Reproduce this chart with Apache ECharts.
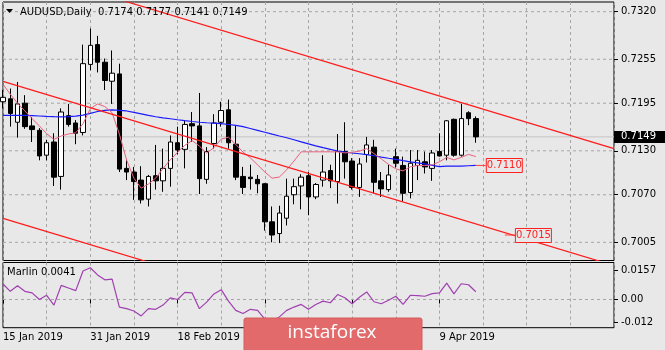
<!DOCTYPE html>
<html>
<head>
<meta charset="utf-8">
<script src="https://cdn.jsdelivr.net/npm/echarts@6/dist/echarts.min.js"></script>
<style>
  html, body { margin: 0; padding: 0; background: #e8e8e8; }
  #chart { width: 665px; height: 350px; }
</style>
</head>
<body>
<div id="chart"></div>
<script>
// AUDUSD daily session dates (trading days), followed by the empty future slots on the right
const dates = [
  '15 Jan 2019','16 Jan 2019','17 Jan 2019','18 Jan 2019','21 Jan 2019','22 Jan 2019','23 Jan 2019','24 Jan 2019','25 Jan 2019',
  '28 Jan 2019','29 Jan 2019','30 Jan 2019','31 Jan 2019','1 Feb 2019','4 Feb 2019','5 Feb 2019','6 Feb 2019','7 Feb 2019',
  '8 Feb 2019','11 Feb 2019','12 Feb 2019','13 Feb 2019','14 Feb 2019','15 Feb 2019','18 Feb 2019','19 Feb 2019','20 Feb 2019',
  '21 Feb 2019','22 Feb 2019','25 Feb 2019','26 Feb 2019','27 Feb 2019','28 Feb 2019','1 Mar 2019','4 Mar 2019','5 Mar 2019',
  '6 Mar 2019','7 Mar 2019','8 Mar 2019','11 Mar 2019','12 Mar 2019','13 Mar 2019','14 Mar 2019','15 Mar 2019','18 Mar 2019',
  '19 Mar 2019','20 Mar 2019','21 Mar 2019','22 Mar 2019','25 Mar 2019','26 Mar 2019','27 Mar 2019','28 Mar 2019','29 Mar 2019',
  '1 Apr 2019','2 Apr 2019','3 Apr 2019','4 Apr 2019','5 Apr 2019','8 Apr 2019','9 Apr 2019','10 Apr 2019','11 Apr 2019',
  '12 Apr 2019','15 Apr 2019','16 Apr 2019'
];
const futureDates = [
  '17 Apr 2019','18 Apr 2019','19 Apr 2019','22 Apr 2019','23 Apr 2019','24 Apr 2019','25 Apr 2019','26 Apr 2019','29 Apr 2019',
  '30 Apr 2019','1 May 2019','2 May 2019','3 May 2019','6 May 2019','7 May 2019','8 May 2019','9 May 2019','10 May 2019','13 May 2019'
];

const opens = [
  0.7197,0.7201,0.7169,0.7195,0.7164,0.7158,0.7124,0.7142,0.7095,0.7178,0.7168,0.7155,0.7248,0.7275,0.7251,0.7225,0.7235,0.7106,
  0.7101,0.7090,0.7064,0.7096,0.7089,0.7106,0.7141,0.7132,0.7167,0.7164,0.7091,0.7140,0.7169,0.7186,0.7139,0.7095,0.7094,0.7091,
  0.7085,0.7033,0.7017,0.7038,0.7070,0.7082,0.7096,0.7067,0.7090,0.7103,0.7088,0.7129,0.7116,0.7080,0.7125,0.7135,0.7089,0.7077,
  0.7122,0.7110,0.7073,0.7110,0.7115,0.7106,0.7129,0.7124,0.7173,0.7124,0.7182,0.7174
];
const highs = [
  0.7213,0.7215,0.7224,0.7206,0.7176,0.7161,0.7145,0.7154,0.7188,0.7194,0.7172,0.7275,0.7297,0.7287,0.7256,0.7267,0.7249,0.7117,
  0.7108,0.7109,0.7097,0.7138,0.7133,0.7151,0.7163,0.7172,0.7183,0.7209,0.7135,0.7180,0.7197,0.7200,0.7165,0.7108,0.7111,0.7097,
  0.7086,0.7054,0.7055,0.7092,0.7092,0.7098,0.7101,0.7086,0.7124,0.7111,0.7153,0.7169,0.7120,0.7120,0.7149,0.7145,0.7101,0.7111,
  0.7133,0.7122,0.7131,0.7131,0.7129,0.7131,0.7154,0.7172,0.7174,0.7194,0.7184,0.7177
];
const lows = [
  0.7188,0.7163,0.7148,0.7160,0.7142,0.7117,0.7117,0.7082,0.7077,0.7163,0.7139,0.7151,0.7240,0.7237,0.7213,0.7194,0.7101,0.7090,
  0.7063,0.7058,0.7054,0.7077,0.7074,0.7081,0.7125,0.7106,0.7142,0.7071,0.7085,0.7133,0.7163,0.7133,0.7090,0.7071,0.7077,0.7072,
  0.7021,0.7005,0.7004,0.7028,0.7057,0.7050,0.7042,0.7064,0.7081,0.7079,0.7058,0.7092,0.7077,0.7067,0.7114,0.7072,0.7067,0.7074,
  0.7107,0.7061,0.7065,0.7090,0.7099,0.7089,0.7122,0.7117,0.7122,0.7122,0.7165,0.7141
];
const closes = [
  0.7203,0.7181,0.7194,0.7163,0.7159,0.7123,0.7141,0.7094,0.7183,0.7166,0.7154,0.7249,0.7274,0.7251,0.7226,0.7236,0.7105,0.7101,
  0.7088,0.7063,0.7095,0.7089,0.7106,0.7142,0.7131,0.7166,0.7164,0.7092,0.7129,0.7168,0.7185,0.7141,0.7094,0.7080,0.7092,0.7085,
  0.7033,0.7015,0.7045,0.7068,0.7081,0.7094,0.7067,0.7084,0.7101,0.7089,0.7129,0.7115,0.7080,0.7112,0.7138,0.7087,0.7078,0.7097,
  0.7113,0.7072,0.7113,0.7117,0.7108,0.7127,0.7123,0.7171,0.7124,0.7174,0.7174,0.7149
];

// slow moving average (blue) and fast moving average (pink)
const maSlow = [
  0.71785,0.71784,0.71783,0.71783,0.71780,0.71775,0.71770,0.71766,0.71764,0.71768,0.71773,0.71787,0.71812,0.71837,0.71853,0.71860,
  0.71852,0.71844,0.71824,0.71805,0.71784,0.71765,0.71750,0.71738,0.71724,0.71711,0.71700,0.71690,0.71683,0.71678,0.71670,0.71659,
  0.71648,0.71630,0.71605,0.71579,0.71553,0.71527,0.71502,0.71478,0.71451,0.71422,0.71394,0.71368,0.71343,0.71320,0.71297,0.71282,
  0.71270,0.71260,0.71249,0.71232,0.71214,0.71198,0.71183,0.71165,0.71149,0.71135,0.71121,0.71102,0.71085,0.71090,0.71090,0.71092,
  0.71096,0.71100
];
const maFast = [
  0.72207,0.72074,0.71949,0.71845,0.71739,0.71640,0.71534,0.71455,0.71502,0.71530,0.71546,0.71670,0.71874,0.71941,0.71904,0.71819,
  0.71527,0.71173,0.70924,0.70789,0.70847,0.70928,0.71058,0.71176,0.71281,0.71375,0.71439,0.71364,0.71268,0.71343,0.71459,0.71486,
  0.71387,0.71282,0.71204,0.71108,0.71010,0.70926,0.70942,0.71041,0.71160,0.71286,0.71286,0.71286,0.71286,0.71286,0.71285,0.71271,
  0.71279,0.71296,0.71330,0.71262,0.71190,0.71115,0.71054,0.71025,0.71081,0.71100,0.71098,0.71108,0.71150,0.71210,0.71176,0.71210,
  0.71251,0.71221
];

// Marlin oscillator
const marlin = [
  0.00822,0.00434,0.00733,0.00434,0.00351,0.00000,0.00225,-0.00298,0.00748,0.00612,0.00471,0.01518,0.01690,0.01308,0.01047,0.01083,
  -0.00403,-0.00487,-0.00612,-0.00874,-0.00487,-0.00523,-0.00298,0.00089,0.00000,0.00382,0.00351,-0.00487,-0.00141,0.00298,0.00523,
  -0.00089,-0.00576,-0.00748,-0.00523,-0.00576,-0.01047,-0.01151,-0.00926,-0.00576,-0.00403,-0.00262,-0.00523,-0.00262,-0.00089,
  -0.00173,0.00262,0.00089,-0.00225,0.00120,0.00403,-0.00120,-0.00225,-0.00037,0.00173,-0.00262,0.00225,0.00209,0.00173,0.00314,
  0.00351,0.00874,0.00298,0.00837,0.00785,0.0041
];

// trend channel lines: price at the first slot and at the last slot of the axis
const upperLine = [0.73845, 0.71330];
const middleLine = [0.72248, 0.69733];
const lowerLine = [0.70378, 0.67863];

// axis ticks
const priceTicks = [0.7320, 0.7255, 0.7195, 0.7130, 0.7070, 0.7005];
const marlinTicks = [0.0157, 0, -0.012];
const marlinTickText = ['0.0157', '0.00', '-0.012'];
const marlinLevel = 0;

// price label attached to the lower channel line
const channelLabelIndex = 69;
const channelLabelPrice = 0.7015;

const FONT = 'DejaVu Sans';
const BG = '#e8e8e8';
const GRID_COLOR = '#a6a6a6';

const categories = dates.concat(futureDates);
const lastIdx = dates.length - 1;
const lastIndexOnAxis = categories.length - 1;
const candleData = opens.map((o, i) => [o, closes[i], lows[i], highs[i]]);
const lastPrice = closes[lastIdx];

const chart = echarts.init(document.getElementById('chart'), null, { renderer: 'canvas' });

const dash = { color: GRID_COLOR, type: [3, 3], width: 1 };
const labelIdx = (i) => i % 12 === 0 && i <= lastIdx;

// a horizontal rule across a whole pane at a given value
const hRule = (value, grid, style, extra) => Object.assign({
  type: 'line', xAxisIndex: grid, yAxisIndex: grid, symbol: 'none', silent: true, z: 1,
  data: [[0, value], [lastIndexOnAxis, value]], lineStyle: style
}, extra || {});

const option = {
  animation: false,
  backgroundColor: BG,
  textStyle: { fontFamily: FONT },
  grid: [
    { left: 3, right: 51, top: 2, height: 258.5, show: true, borderColor: '#000', borderWidth: 1,
      backgroundColor: 'transparent', containLabel: false, outerBoundsMode: 'none' },
    { left: 3, right: 51, top: 262.5, height: 65.2, show: true, borderColor: '#000', borderWidth: 1,
      backgroundColor: 'transparent', containLabel: false, outerBoundsMode: 'none' }
  ],
  xAxis: [
    {
      type: 'category', gridIndex: 0, data: categories, boundaryGap: false,
      axisLine: { show: false }, axisTick: { show: false }, axisLabel: { show: false },
      splitLine: { show: true, interval: (i) => i % 6 === 0, lineStyle: dash }
    },
    {
      type: 'category', gridIndex: 1, data: categories, boundaryGap: false,
      axisLine: { show: false },
      axisTick: { show: true, interval: labelIdx, length: 4, lineStyle: { color: '#000', width: 1 } },
      axisLabel: {
        show: true, interval: labelIdx, align: 'left', margin: 5,
        color: '#000', fontSize: 10, fontFamily: FONT
      },
      splitLine: { show: true, interval: (i) => i % 6 === 0, lineStyle: dash }
    }
  ],
  yAxis: [
    {
      type: 'value', gridIndex: 0, position: 'right', min: 0.69802, max: 0.73332, scale: true,
      axisLine: { show: false },
      axisTick: { show: true, customValues: priceTicks, length: 4, lineStyle: { color: '#000' } },
      axisLabel: { customValues: priceTicks, formatter: (v) => v.toFixed(4), margin: 7,
                   color: '#000', fontSize: 10, fontFamily: FONT },
      splitLine: { show: false }
    },
    {
      type: 'value', gridIndex: 1, position: 'right', min: -0.0150, max: 0.01968, scale: true,
      axisLine: { show: false },
      axisTick: { show: true, customValues: marlinTicks, length: 4, lineStyle: { color: '#000' } },
      axisLabel: {
        customValues: marlinTicks,
        formatter: (v) => {
          const k = marlinTicks.findIndex((t) => Math.abs(t - v) < 1e-9);
          return k >= 0 ? marlinTickText[k] : '';
        },
        margin: 7, color: '#000', fontSize: 10, fontFamily: FONT
      },
      splitLine: { show: false }
    }
  ],
  series: [
    // dashed price grid and the oscillator zero level
    ...priceTicks.map((v) => hRule(v, 0, dash, { z: 0 })),
    hRule(marlinLevel, 1, dash, { z: 0 }),
    // last price line with its tag on the price scale
    hRule(lastPrice, 0, { color: '#c4c4c4', type: 'solid', width: 1 }, {
      z: 1,
      endLabel: {
        show: true, distance: 0, formatter: lastPrice.toFixed(4),
        backgroundColor: '#000', color: '#fff', fontSize: 10, fontFamily: FONT,
        padding: [1, 10, 1, 7]
      }
    }),
    {
      name: 'AUDUSD', type: 'candlestick', xAxisIndex: 0, yAxisIndex: 0, data: candleData,
      barWidth: 5, z: 3,
      itemStyle: { color: '#ffffff', color0: '#000000', borderColor: '#000000', borderColor0: '#000000', borderWidth: 1 }
    },
    {
      name: 'MA slow', type: 'line', xAxisIndex: 0, yAxisIndex: 0, data: maSlow, symbol: 'none',
      z: 4, lineStyle: { color: '#1a1aff', width: 1.2 }
    },
    {
      name: 'MA fast', type: 'line', xAxisIndex: 0, yAxisIndex: 0, data: maFast, symbol: 'none',
      z: 4, lineStyle: { color: '#e8607c', width: 1 }
    },
    {
      name: 'upper', type: 'line', xAxisIndex: 0, yAxisIndex: 0, symbol: 'none', z: 5, clip: true,
      data: [[0, upperLine[0]], [lastIndexOnAxis, upperLine[1]]],
      lineStyle: { color: '#ff1a1a', width: 1.2 }
    },
    {
      name: 'middle', type: 'line', xAxisIndex: 0, yAxisIndex: 0, symbol: 'none', z: 5, clip: true,
      data: [[0, middleLine[0]], [lastIndexOnAxis, middleLine[1]]],
      lineStyle: { color: '#ff1a1a', width: 1.2 }
    },
    {
      name: 'lower', type: 'line', xAxisIndex: 0, yAxisIndex: 0, symbol: 'none', z: 5, clip: true,
      data: [[0, lowerLine[0]], [lastIndexOnAxis, lowerLine[1]]],
      lineStyle: { color: '#ff1a1a', width: 1.2 }
    },
    {
      name: 'Marlin', type: 'line', xAxisIndex: 1, yAxisIndex: 1, data: marlin, symbol: 'none', z: 4,
      lineStyle: { color: '#a040b0', width: 1.2 }
    }
  ]
};

chart.setOption(option);

// overlay texts and price tags, positioned from the data through the axes
const tag = (anchor, text) => {
  const boxLeft = anchor[0] + 10;
  return [
    { type: 'line', z: 20, shape: { x1: anchor[0], y1: anchor[1], x2: boxLeft, y2: anchor[1] },
      style: { stroke: '#ff4040', lineWidth: 1 } },
    { type: 'rect', z: 20, shape: { x: boxLeft + 0.5, y: Math.round(anchor[1]) - 6.5, width: 36, height: 14 },
      style: { fill: BG, stroke: '#ff2020', lineWidth: 1 } },
    { type: 'text', z: 21, x: boxLeft + 18.5, y: Math.round(anchor[1]) + 0.5,
      style: { text: text, fill: '#ff2020', font: '10px "' + FONT + '"', align: 'center', verticalAlign: 'middle' } }
  ];
};

const maEnd = chart.convertToPixel({ gridIndex: 0 }, [lastIdx, maSlow[lastIdx]]);
const chAnchor = chart.convertToPixel({ gridIndex: 0 }, [channelLabelIndex, channelLabelPrice]);

const headline = 'AUDUSD,Daily  ' + [opens[lastIdx], highs[lastIdx], lows[lastIdx], closes[lastIdx]]
  .map((v) => v.toFixed(4)).join(' ');

chart.setOption({
  graphic: [
    { type: 'polygon', z: 20, shape: { points: [[6, 9], [13, 9], [9.5, 13]] }, style: { fill: '#000' } },
    { type: 'text', z: 20, x: 20, y: 12,
      style: { text: headline, fill: '#000', font: '10px "' + FONT + '"', verticalAlign: 'middle' } },
    { type: 'text', z: 20, x: 7, y: 272.5,
      style: { text: 'Marlin ' + marlin[lastIdx].toFixed(4), fill: '#000', font: '10px "' + FONT + '"', verticalAlign: 'middle' } },
    ...tag(maEnd, maSlow[lastIdx].toFixed(4)),
    ...tag(chAnchor, channelLabelPrice.toFixed(4)),
    { type: 'rect', z: 30, shape: { x: 244, y: 318, width: 178, height: 40, r: 2 },
      style: { fill: '#e26a6a', stroke: '#d45c5c', lineWidth: 1 } },
    { type: 'text', z: 31, x: 332, y: 333,
      style: { text: 'instaforex', fill: '#ffffff', font: '19px "Open Sans"', align: 'center', verticalAlign: 'middle' } }
  ]
});
</script>
</body>
</html>
